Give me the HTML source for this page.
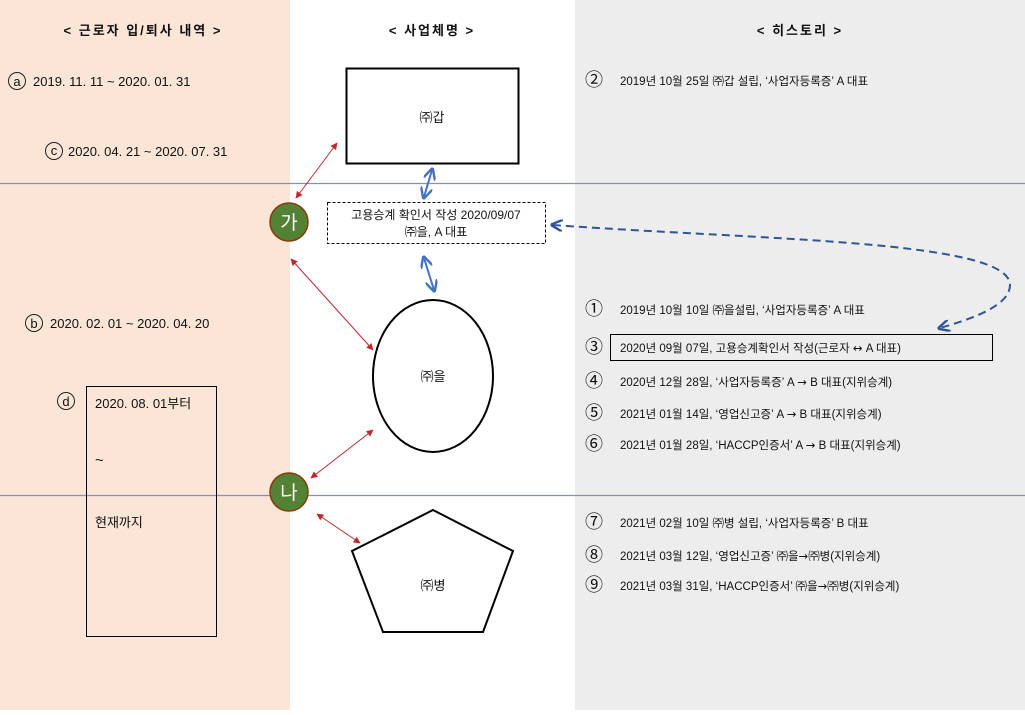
<!DOCTYPE html>
<html><head><meta charset="utf-8"><style>
body{margin:0;width:1025px;height:710px;overflow:hidden;background:#fff}
svg text{font-family:"Liberation Sans","Noto Sans CJK KR",sans-serif;fill:#111}
.ar{font-family:"DejaVu Sans",sans-serif}
</style></head><body>
<svg width="1025" height="710" xmlns="http://www.w3.org/2000/svg">
<defs>
<marker id="r" viewBox="0 0 10 10" refX="9" refY="5" markerWidth="7" markerHeight="7" orient="auto-start-reverse"><path d="M0,0L10,5L0,10z" fill="#c0282d"/></marker>
<marker id="b" viewBox="0 0 10 10" refX="8" refY="5" markerWidth="6" markerHeight="6" orient="auto-start-reverse"><path d="M0,0L10,5L0,10" fill="none" stroke="#4472c4" stroke-width="2"/></marker>
<marker id="d" viewBox="0 0 10 10" refX="8" refY="5" markerWidth="6" markerHeight="6" orient="auto-start-reverse"><path d="M0,0L10,5L0,10" fill="none" stroke="#2f5597" stroke-width="2"/></marker>
</defs>
<rect x="0" y="0" width="290" height="710" fill="#fbe5d6"/>
<rect x="575" y="0" width="450" height="710" fill="#ededed"/>
<line x1="0" y1="183.5" x2="1025" y2="183.5" stroke="#7f93b5" stroke-width="1.2"/>
<line x1="0" y1="495.5" x2="1025" y2="495.5" stroke="#7f93b5" stroke-width="1.2"/>
<g font-size="13" font-weight="bold" text-anchor="middle" letter-spacing="2">
<text x="143" y="35">&lt; 근로자 입/퇴사 내역 &gt;</text>
<text x="432" y="35">&lt; 사업체명 &gt;</text>
<text x="800" y="35">&lt; 히스토리 &gt;</text>
</g>
<g fill="none" stroke="#222" stroke-width="1">
<circle cx="17" cy="81" r="8.5"/><circle cx="54" cy="151" r="8.5"/>
<circle cx="34" cy="323" r="8.5"/><circle cx="66" cy="401" r="8.5"/>
</g>
<g font-size="13" text-anchor="middle">
<text x="17" y="86">a</text><text x="54" y="155">c</text><text x="34" y="328">b</text><text x="66" y="406">d</text>
</g>
<g font-size="13">
<text x="33" y="86">2019. 11. 11 ~ 2020. 01. 31</text>
<text x="68" y="156">2020. 04. 21 ~ 2020. 07. 31</text>
<text x="50" y="328">2020. 02. 01 ~ 2020. 04. 20</text>
<text x="95" y="408">2020. 08. 01부터</text>
<text x="95" y="465" font-size="15">~</text>
<text x="95" y="527">현재까지</text>
</g>
<rect x="86.5" y="386.5" width="130" height="250" fill="none" stroke="#000"/>
<rect x="346.5" y="68.5" width="172" height="95" fill="#fff" stroke="#000" stroke-width="2"/>
<text x="432" y="122" font-size="13" text-anchor="middle">㈜갑</text>
<rect x="327.5" y="202.5" width="218" height="41" fill="#fff" stroke="#000" stroke-dasharray="3,2"/>
<text x="436" y="219" font-size="12" text-anchor="middle">고용승계 확인서 작성 2020/09/07</text>
<text x="436" y="236" font-size="12" text-anchor="middle">㈜을, A 대표</text>
<ellipse cx="433" cy="376" rx="60" ry="76" fill="#fff" stroke="#000" stroke-width="2"/>
<text x="433" y="381" font-size="13" text-anchor="middle">㈜을</text>
<polygon points="433,510 513,551 483,632 383,632 352,551" fill="#fff" stroke="#000" stroke-width="2"/>
<text x="433" y="590" font-size="13" text-anchor="middle">㈜병</text>
<circle cx="289" cy="222" r="19" fill="#548235" stroke="#843c0c" stroke-width="1.5"/>
<text x="289" y="229" font-size="19" text-anchor="middle" style="fill:#fff">가</text>
<circle cx="289" cy="492" r="19" fill="#548235" stroke="#843c0c" stroke-width="1.5"/>
<text x="289" y="499" font-size="19" text-anchor="middle" style="fill:#fff">나</text>
<g stroke="#c0282d" stroke-width="1" marker-start="url(#r)" marker-end="url(#r)">
<line x1="337" y1="143" x2="296" y2="198"/>
<line x1="291" y1="259" x2="373" y2="350"/>
<line x1="373" y1="430" x2="311" y2="478"/>
<line x1="317" y1="514" x2="360" y2="543"/>
</g>
<g stroke="#4472c4" stroke-width="2" marker-start="url(#b)" marker-end="url(#b)">
<line x1="432" y1="170" x2="424" y2="197"/>
<line x1="424" y1="258" x2="434" y2="290"/>
</g>
<path d="M553,225 C760,240 1010,240 1010,285 C1010,305 975,318 940,328" fill="none" stroke="#2f5597" stroke-width="2" stroke-dasharray="8,5" marker-start="url(#d)" marker-end="url(#d)"/>
<rect x="610.5" y="334.5" width="382" height="26" fill="none" stroke="#000"/>
<g font-size="11.5">
<text x="585" y="86" font-size="18">②</text><text x="620" y="85">2019년 10월 25일 ㈜갑 설립, ‘사업자등록증’ A 대표</text>
<text x="585" y="315" font-size="18">①</text><text x="620" y="314">2019년 10월 10일 ㈜을설립, ‘사업자등록증’ A 대표</text>
<text x="585" y="353" font-size="18">③</text><text x="620" y="352">2020년 09월 07일, 고용승계확인서 작성(근로자 <tspan class="ar">↔</tspan> A 대표)</text>
<text x="585" y="387" font-size="18">④</text><text x="620" y="386">2020년 12월 28일, ‘사업자등록증’ A <tspan class="ar">→</tspan> B 대표(지위승계)</text>
<text x="585" y="419" font-size="18">⑤</text><text x="620" y="418">2021년 01월 14일, ‘영업신고증’ A <tspan class="ar">→</tspan> B 대표(지위승계)</text>
<text x="585" y="450" font-size="18">⑥</text><text x="620" y="449">2021년 01월 28일, ‘HACCP인증서’ A <tspan class="ar">→</tspan> B 대표(지위승계)</text>
<text x="585" y="528" font-size="18">⑦</text><text x="620" y="527">2021년 02월 10일 ㈜병 설립, ‘사업자등록증’ B 대표</text>
<text x="585" y="561" font-size="18">⑧</text><text x="620" y="560">2021년 03월 12일, ‘영업신고증’ ㈜을<tspan class="ar">→</tspan>㈜병(지위승계)</text>
<text x="585" y="591" font-size="18">⑨</text><text x="620" y="590">2021년 03월 31일, ‘HACCP인증서’ ㈜을<tspan class="ar">→</tspan>㈜병(지위승계)</text>
</g>
</svg>
</body></html>
